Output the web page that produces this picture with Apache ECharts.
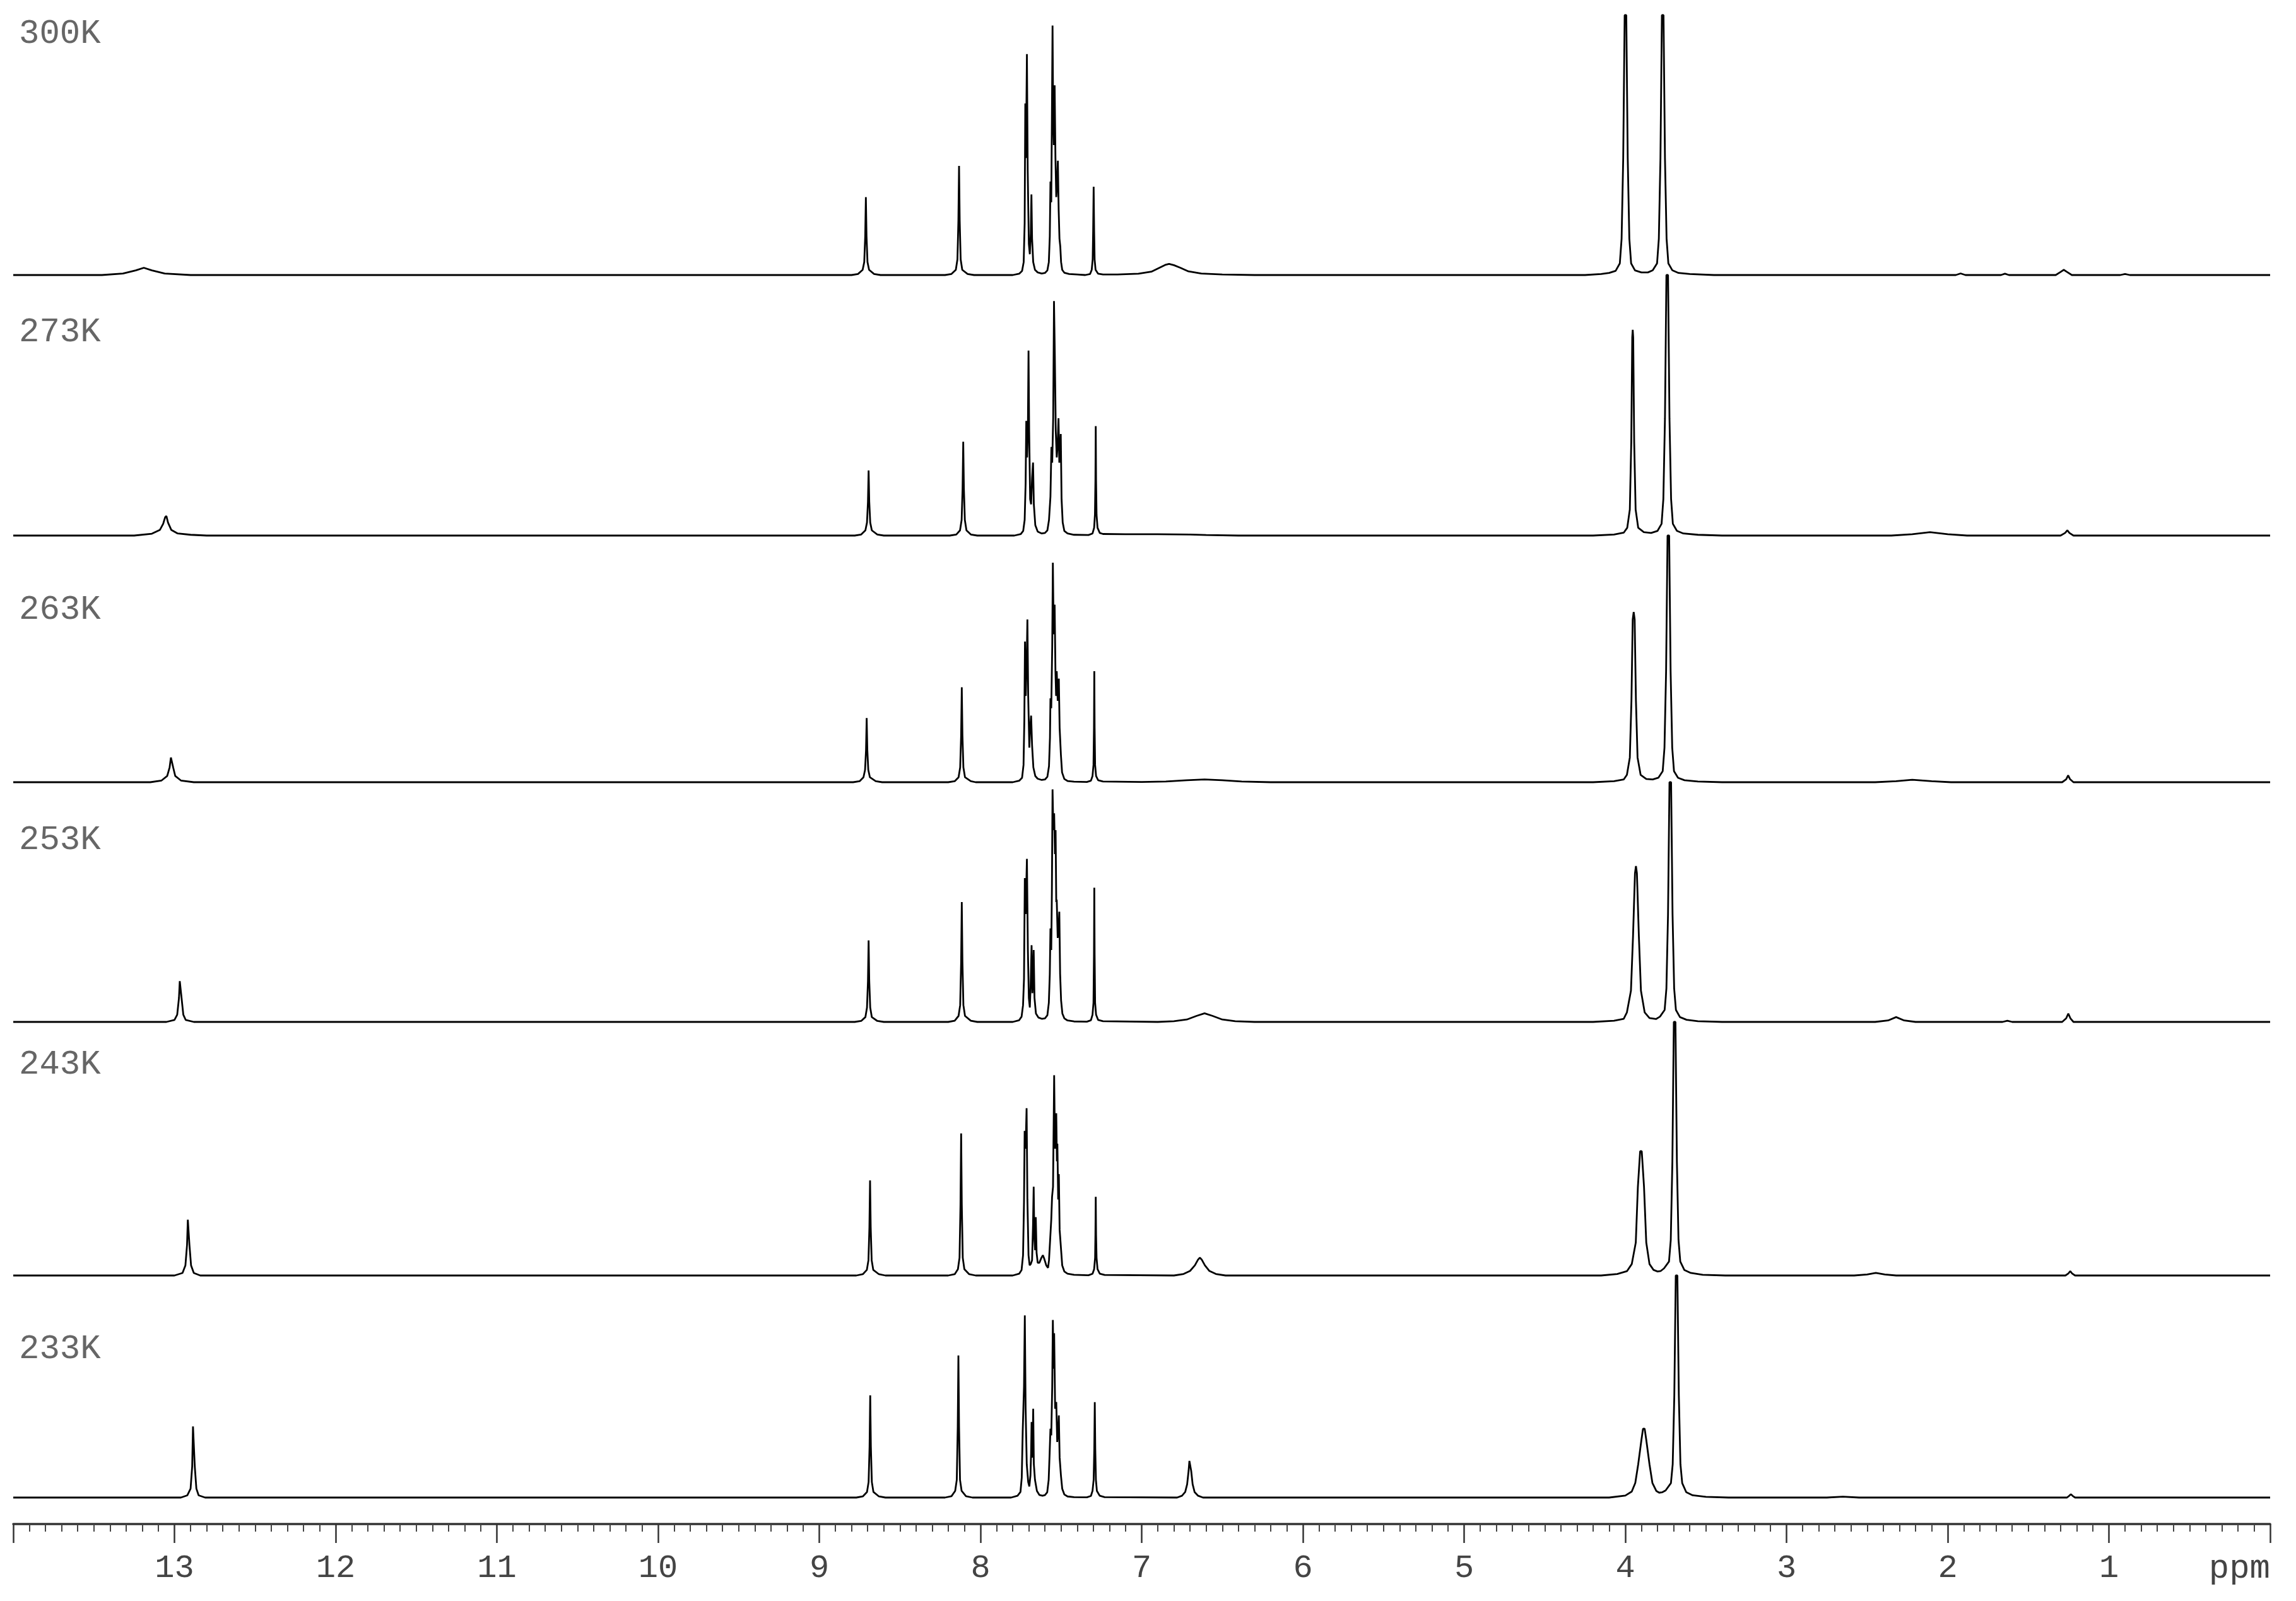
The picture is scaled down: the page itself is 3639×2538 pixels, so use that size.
<!DOCTYPE html>
<html>
<head>
<meta charset="utf-8">
<script src="https://cdn.jsdelivr.net/npm/echarts@6/dist/echarts.min.js"></script>
<style>
  html, body { margin: 0; padding: 0; background: #fff; }
  #chart { width: 3639px; height: 2538px; }
</style>
</head>
<body>
<div id="chart"></div>
<script>
// temperatures, top to bottom
const temps = ['300K', '273K', '263K', '253K', '243K', '233K'];

// chemical shift axis (ppm), drawn high -> low
const ppmMin = 0;
const ppmMax = 14;

// spectra as [ppm, relative intensity %]
const spec300 = [
  [14, 0], [13.45, 0], [13.32, 0.6], [13.24, 1.8], [13.19, 2.8], [13.14, 1.8], [13.06, 0.6], [12.9, 0],
  [8.80, 0], [8.76, 0.4], [8.731, 2], [8.721, 5], [8.715, 15], [8.711, 30], [8.707, 15], [8.701, 5], [8.691, 2], [8.66, 0.4], [8.62, 0],
  [8.22, 0], [8.18, 0.4], [8.153, 2], [8.143, 6], [8.137, 21], [8.133, 42], [8.129, 21], [8.123, 6], [8.113, 2], [8.08, 0.4], [8.04, 0],
  [7.80, 0], [7.76, 0.5], [7.742, 1.6], [7.732, 5], [7.726, 20], [7.722, 66], [7.718, 45], [7.712, 85], [7.707, 40], [7.700, 12], [7.694, 8],
  [7.688, 16], [7.684, 31], [7.680, 14], [7.673, 5], [7.662, 2], [7.645, 1], [7.62, 0.6], [7.600, 0.8], [7.585, 1.8], [7.576, 5], [7.570, 15],
  [7.566, 36], [7.561, 28], [7.557, 60], [7.553, 96], [7.549, 60], [7.545, 50], [7.540, 73], [7.535, 45], [7.530, 30], [7.525, 35], [7.520, 44],
  [7.515, 25], [7.510, 14], [7.505, 11], [7.500, 5], [7.493, 2], [7.48, 0.9], [7.45, 0.4], [7.40, 0.2],
  [7.35, 0], [7.32, 0.4], [7.31, 2], [7.304, 6], [7.301, 17], [7.298, 34], [7.295, 17], [7.292, 6], [7.286, 2], [7.27, 0.5], [7.24, 0.2],
  [7.15, 0.2], [7.02, 0.5], [6.94, 1.3], [6.89, 2.8], [6.85, 4], [6.83, 4.3], [6.80, 3.8], [6.76, 2.8], [6.71, 1.4], [6.63, 0.6], [6.5, 0.2], [6.3, 0],
  [4.25, 0], [4.15, 0.4], [4.10, 0.8], [4.06, 1.6], [4.034, 4.5], [4.023, 14], [4.013, 45], [4.004, 100], [3.994, 100], [3.985, 45], [3.975, 14],
  [3.964, 4.5], [3.940, 1.8], [3.90, 1], [3.86, 1],
  [3.83, 1.8], [3.803, 4.5], [3.792, 14], [3.782, 45], [3.773, 100], [3.763, 100], [3.754, 45], [3.744, 14], [3.733, 4.5], [3.708, 1.8], [3.67, 0.8], [3.6, 0.4], [3.45, 0],
  [1.95, 0], [1.92, 0.6], [1.89, 0], [1.67, 0], [1.645, 0.5], [1.62, 0], [1.33, 0], [1.30, 1.2], [1.28, 2], [1.26, 1.2], [1.23, 0],
  [0.93, 0], [0.90, 0.4], [0.87, 0], [0, 0]
];

const spec273 = [
  [14, 0], [13.25, 0], [13.14, 0.7], [13.09, 2.2], [13.07, 4.5], [13.058, 7], [13.050, 7.5], [13.040, 5], [13.02, 2.2], [12.98, 0.8], [12.9, 0.3], [12.8, 0],
  [8.78, 0], [8.74, 0.4], [8.714, 2], [8.704, 5], [8.698, 13], [8.694, 25], [8.690, 13], [8.684, 5], [8.674, 2], [8.64, 0.4], [8.60, 0],
  [8.19, 0], [8.15, 0.4], [8.127, 2], [8.117, 6], [8.111, 18], [8.107, 36], [8.103, 18], [8.097, 6], [8.087, 2], [8.06, 0.4], [8.02, 0],
  [7.79, 0], [7.75, 0.6], [7.735, 1.8], [7.726, 6], [7.720, 20], [7.716, 44], [7.711, 30], [7.706, 40], [7.702, 71], [7.698, 40], [7.692, 14],
  [7.686, 12], [7.680, 22], [7.674, 28], [7.669, 12], [7.660, 4], [7.645, 1.5], [7.62, 0.8], [7.60, 1], [7.585, 2], [7.575, 6], [7.566, 15],
  [7.560, 34], [7.555, 28], [7.549, 45], [7.544, 90], [7.539, 70], [7.533, 40], [7.527, 30], [7.522, 34], [7.516, 45], [7.511, 28], [7.506, 32],
  [7.502, 39], [7.497, 14], [7.490, 5], [7.48, 1.8], [7.46, 0.8], [7.42, 0.3],
  [7.33, 0.2], [7.305, 0.8], [7.295, 3], [7.290, 8], [7.287, 21], [7.285, 42], [7.283, 21], [7.280, 8], [7.274, 3], [7.26, 1], [7.24, 0.6],
  [7.1, 0.5], [6.9, 0.5], [6.7, 0.4], [6.6, 0.2], [6.4, 0],
  [4.2, 0], [4.07, 0.4], [4.01, 1.1], [3.988, 3], [3.972, 10], [3.963, 36], [3.957, 76], [3.954, 79], [3.951, 76], [3.945, 36], [3.936, 10],
  [3.920, 3], [3.885, 1.3], [3.84, 1],
  [3.80, 1.8], [3.775, 4.5], [3.764, 14], [3.754, 45], [3.745, 100], [3.735, 100], [3.726, 45], [3.716, 14], [3.705, 4.5], [3.68, 1.8], [3.64, 0.8], [3.55, 0.3], [3.40, 0],
  [2.35, 0], [2.22, 0.5], [2.11, 1.3], [2.0, 0.5], [1.88, 0], [1.30, 0], [1.272, 1], [1.258, 2], [1.245, 1], [1.22, 0], [0, 0]
];

const spec263 = [
  [14, 0], [13.15, 0], [13.08, 0.7], [13.045, 2.5], [13.030, 6], [13.022, 10], [13.016, 10], [13.008, 6], [12.995, 2.5], [12.96, 0.7], [12.88, 0],
  [8.79, 0], [8.75, 0.4], [8.726, 2], [8.716, 5], [8.710, 13], [8.706, 26], [8.702, 13], [8.696, 5], [8.686, 2], [8.65, 0.4], [8.61, 0],
  [8.20, 0], [8.16, 0.4], [8.136, 2], [8.126, 6], [8.120, 19], [8.116, 38.5], [8.112, 19], [8.106, 6], [8.096, 2], [8.06, 0.4], [8.03, 0],
  [7.80, 0], [7.76, 0.6], [7.742, 1.8], [7.733, 7], [7.728, 25], [7.724, 57], [7.719, 35], [7.713, 50], [7.709, 66], [7.704, 35], [7.697, 14],
  [7.692, 22], [7.686, 27], [7.680, 15], [7.672, 6], [7.66, 2.5], [7.645, 1.4], [7.62, 0.9], [7.60, 1.1], [7.585, 2.2], [7.575, 6.5], [7.569, 18],
  [7.566, 34], [7.561, 30], [7.555, 55], [7.551, 89], [7.546, 60], [7.540, 72], [7.535, 45], [7.531, 35], [7.527, 45], [7.521, 33], [7.514, 42],
  [7.509, 22], [7.501, 11], [7.494, 4], [7.48, 1.3], [7.46, 0.5], [7.42, 0.2],
  [7.34, 0.1], [7.315, 0.6], [7.305, 2.5], [7.299, 7], [7.296, 22], [7.294, 45], [7.292, 22], [7.289, 7], [7.283, 2.5], [7.27, 0.8], [7.24, 0.3],
  [7.0, 0.1], [6.85, 0.3], [6.72, 0.8], [6.61, 1.1], [6.50, 0.8], [6.38, 0.3], [6.2, 0],
  [4.2, 0], [4.07, 0.4], [4.01, 1.1], [3.990, 3], [3.972, 10], [3.962, 33], [3.954, 66], [3.948, 69], [3.942, 66], [3.934, 33], [3.924, 10],
  [3.905, 3], [3.87, 1.3], [3.83, 1.1],
  [3.795, 1.8], [3.768, 4.5], [3.757, 14], [3.747, 45], [3.738, 100], [3.728, 100], [3.719, 45], [3.709, 14], [3.698, 4.5], [3.673, 1.8], [3.633, 0.8], [3.55, 0.3], [3.40, 0],
  [2.45, 0], [2.32, 0.4], [2.22, 1], [2.10, 0.4], [1.98, 0], [1.29, 0], [1.265, 1.2], [1.253, 2.8], [1.241, 1.2], [1.22, 0], [0, 0]
];

const spec253 = [
  [14, 0], [13.05, 0], [13.0, 0.8], [12.983, 3], [12.972, 10], [12.967, 17], [12.961, 17], [12.956, 10], [12.945, 3], [12.93, 0.8], [12.88, 0],
  [8.78, 0], [8.74, 0.4], [8.714, 2], [8.704, 6], [8.698, 17], [8.694, 34], [8.690, 17], [8.684, 6], [8.674, 2], [8.64, 0.4], [8.60, 0],
  [8.20, 0], [8.16, 0.5], [8.136, 2.5], [8.126, 7], [8.120, 25], [8.116, 50], [8.112, 25], [8.106, 7], [8.096, 2.5], [8.06, 0.5], [8.02, 0],
  [7.80, 0], [7.76, 0.7], [7.745, 2.2], [7.736, 7], [7.730, 18], [7.725, 60], [7.720, 45], [7.712, 68], [7.706, 30], [7.700, 10], [7.694, 6],
  [7.689, 15], [7.683, 32], [7.678, 12], [7.674, 18], [7.670, 30], [7.665, 10], [7.656, 3.5], [7.64, 1.8], [7.62, 1.3], [7.60, 1.5], [7.585, 2.8],
  [7.576, 8], [7.570, 20],
  [7.566, 39], [7.561, 30], [7.557, 55], [7.553, 97], [7.548, 80], [7.543, 87], [7.538, 70], [7.534, 80], [7.530, 50], [7.527, 51], [7.521, 35],
  [7.515, 40], [7.511, 46], [7.506, 20], [7.500, 9], [7.492, 3.5], [7.48, 1.5], [7.46, 0.6], [7.42, 0.2],
  [7.34, 0.1], [7.315, 0.7], [7.305, 3], [7.299, 8], [7.296, 28], [7.294, 56], [7.292, 28], [7.289, 8], [7.283, 3], [7.27, 0.8], [7.24, 0.3],
  [6.9, 0], [6.80, 0.3], [6.72, 1], [6.66, 2.5], [6.61, 3.6], [6.56, 2.5], [6.50, 1], [6.42, 0.3], [6.3, 0],
  [4.2, 0], [4.07, 0.5], [4.01, 1.3], [3.990, 4], [3.965, 13], [3.952, 36], [3.940, 62], [3.934, 65], [3.928, 62], [3.916, 36], [3.903, 13],
  [3.880, 4], [3.85, 1.6], [3.81, 1.2],
  [3.785, 2.2], [3.756, 5], [3.745, 14], [3.735, 45], [3.726, 100], [3.716, 100], [3.707, 45], [3.697, 14], [3.686, 5], [3.661, 2], [3.62, 0.9], [3.55, 0.3], [3.40, 0],
  [2.45, 0], [2.37, 0.6], [2.32, 2], [2.27, 0.6], [2.20, 0], [1.66, 0], [1.63, 0.5], [1.60, 0],
  [1.29, 0], [1.265, 1.5], [1.252, 3.5], [1.239, 1.5], [1.22, 0], [0, 0]
];

const spec243 = [
  [14, 0], [13.0, 0], [12.95, 1], [12.932, 4], [12.922, 12], [12.917, 22], [12.912, 22], [12.907, 12], [12.897, 4], [12.88, 1], [12.84, 0],
  [8.77, 0], [8.73, 0.5], [8.705, 2.2], [8.695, 6], [8.689, 19], [8.685, 37.5], [8.681, 19], [8.675, 6], [8.665, 2.2], [8.63, 0.5], [8.59, 0],
  [8.20, 0], [8.16, 0.5], [8.140, 2.5], [8.130, 7], [8.124, 28], [8.120, 56], [8.116, 28], [8.110, 7], [8.100, 2.5], [8.07, 0.5], [8.03, 0],
  [7.80, 0], [7.76, 0.7], [7.745, 2.2], [7.736, 8], [7.730, 29], [7.726, 57], [7.720, 50], [7.714, 66], [7.709, 30], [7.702, 8], [7.695, 4],
  [7.688, 4.5], [7.680, 6], [7.674, 20], [7.670, 35], [7.666, 15], [7.661, 10], [7.657, 23], [7.652, 9], [7.645, 5], [7.635, 5], [7.622, 7],
  [7.613, 8], [7.604, 6.5], [7.592, 4], [7.581, 3], [7.575, 6], [7.568, 14], [7.561, 22],
  [7.556, 31], [7.550, 35], [7.543, 79], [7.538, 50], [7.530, 64], [7.526, 45], [7.523, 52], [7.518, 30], [7.514, 40], [7.509, 18], [7.501, 11],
  [7.493, 4], [7.48, 1.6], [7.46, 0.7], [7.42, 0.3],
  [7.33, 0.1], [7.305, 0.7], [7.295, 2.5], [7.289, 7], [7.287, 16], [7.285, 31], [7.283, 16], [7.280, 7], [7.274, 2.5], [7.26, 0.7], [7.23, 0.2],
  [6.80, 0], [6.74, 0.6], [6.70, 1.8], [6.670, 4], [6.650, 6.3], [6.639, 7], [6.628, 6.3], [6.608, 4], [6.58, 1.8], [6.54, 0.6], [6.48, 0],
  [4.15, 0], [4.05, 0.6], [3.99, 1.7], [3.960, 4.5], [3.935, 13], [3.922, 35], [3.908, 49], [3.898, 49], [3.884, 35], [3.870, 13], [3.850, 4.5],
  [3.825, 2.2], [3.80, 1.6], [3.78, 1.8],
  [3.76, 2.8], [3.729, 5.5], [3.718, 14], [3.708, 45], [3.699, 100], [3.689, 100], [3.680, 45], [3.670, 14], [3.659, 5.5], [3.634, 2.2], [3.594, 1], [3.52, 0.3], [3.38, 0],
  [2.58, 0], [2.50, 0.4], [2.446, 1], [2.39, 0.4], [2.32, 0], [1.27, 0], [1.252, 0.8], [1.240, 1.7], [1.228, 0.8], [1.21, 0], [0, 0]
];

const spec233 = [
  [14, 0], [12.96, 0], [12.92, 1], [12.900, 4], [12.890, 14], [12.885, 32], [12.879, 32], [12.874, 14], [12.864, 4], [12.85, 1], [12.81, 0],
  [8.77, 0], [8.73, 0.5], [8.704, 2.5], [8.694, 7], [8.688, 23], [8.684, 46], [8.680, 23], [8.674, 7], [8.664, 2.5], [8.63, 0.5], [8.59, 0],
  [8.22, 0], [8.18, 0.6], [8.157, 3], [8.147, 8], [8.141, 32], [8.137, 64], [8.133, 32], [8.127, 8], [8.117, 3], [8.09, 0.6], [8.05, 0],
  [7.81, 0], [7.77, 0.8], [7.752, 2.5], [7.744, 9], [7.738, 30], [7.730, 50], [7.725, 82], [7.720, 40], [7.713, 15], [7.704, 7], [7.697, 5],
  [7.690, 10], [7.686, 20], [7.683, 34], [7.679, 18], [7.676, 25], [7.673, 40], [7.669, 15], [7.662, 8], [7.657, 8], [7.650, 3], [7.635, 1.2],
  [7.615, 0.8], [7.600, 1.1], [7.586, 2.4], [7.577, 8], [7.571, 20],
  [7.566, 31], [7.561, 28], [7.555, 50], [7.551, 80], [7.547, 58], [7.543, 74], [7.537, 40], [7.530, 43], [7.524, 25], [7.518, 30], [7.514, 37],
  [7.509, 18], [7.501, 10], [7.493, 4], [7.48, 1.4], [7.46, 0.5], [7.42, 0.2],
  [7.34, 0.1], [7.315, 0.7], [7.305, 3], [7.298, 8], [7.294, 22], [7.291, 43], [7.288, 22], [7.284, 8], [7.278, 3], [7.26, 0.8], [7.23, 0.2],
  [6.78, 0], [6.75, 0.8], [6.73, 2.5], [6.718, 6], [6.709, 12], [6.704, 16.5], [6.698, 16.5], [6.693, 12], [6.684, 6], [6.672, 2.5], [6.65, 0.8], [6.62, 0],
  [4.10, 0], [4.0, 0.9], [3.960, 2.7], [3.938, 6.6], [3.920, 15], [3.900, 26], [3.890, 31], [3.880, 31], [3.870, 26], [3.850, 15], [3.832, 6.6],
  [3.808, 3], [3.79, 2.2], [3.77, 2.4],
  [3.75, 3.2], [3.717, 6.5], [3.706, 15], [3.696, 46], [3.687, 100], [3.677, 100], [3.668, 46], [3.658, 15], [3.647, 6.5], [3.622, 2.4], [3.582, 1], [3.50, 0.3], [3.36, 0],
  [2.75, 0], [2.65, 0.4], [2.55, 0], [1.26, 0], [1.248, 0.7], [1.236, 1.5], [1.224, 0.7], [1.21, 0], [0, 0]
];

const spectra = [spec300, spec273, spec263, spec253, spec243, spec233];

// stacked boxes (px): each spectrum's tallest line fills its box
const boxTop = [24, 436, 849, 1240, 1620, 2022];
const boxBottom = [436, 849, 1240, 1620, 2022, 2374];
const labelTop = [27, 500, 940, 1305, 1661, 2112];

const myChart = echarts.init(document.getElementById('chart'), null, { renderer: 'canvas' });

let grids = [], xAxes = [], yAxes = [], series = [];
spectra.forEach((data, i) => {
  const last = i === spectra.length - 1;
  grids.push({
    left: 21,
    right: 41,
    top: boxTop[i],
    height: boxBottom[i] - boxTop[i],
    containLabel: false,
    outerBoundsMode: 'none'
  });
  xAxes.push({
    gridIndex: i,
    type: 'value',
    position: 'bottom',
    min: ppmMin,
    max: ppmMax,
    interval: 1,
    inverse: true,
    show: last,
    offset: last ? 42 : 0,
    name: 'ppm',
    nameLocation: 'start',
    nameGap: 0,
    nameTextStyle: {
      fontFamily: 'Liberation Mono',
      fontSize: 54,
      color: '#444',
      align: 'right',
      verticalAlign: 'top',
      padding: [44, 0, 0, 0]
    },
    axisLine: { show: true, onZero: false, lineStyle: { color: '#333', width: 3.5 } },
    axisTick: { show: true, length: 30, lineStyle: { color: '#333', width: 2.5 } },
    minorTick: { show: true, splitNumber: 10, length: 12, lineStyle: { color: '#444', width: 2 } },
    splitLine: { show: false },
    minorSplitLine: { show: false },
    axisLabel: {
      margin: 44,
      fontFamily: 'Liberation Mono',
      fontSize: 52,
      color: '#444',
      formatter: (v) => (v === ppmMin || v === ppmMax) ? '' : String(v)
    }
  });
  yAxes.push({ gridIndex: i, type: 'value', min: 0, max: 100, show: false });
  series.push({
    name: temps[i],
    type: 'line',
    xAxisIndex: i,
    yAxisIndex: i,
    data: data,
    symbol: 'none',
    showSymbol: false,
    clip: false,
    silent: true,
    lineStyle: { color: '#000', width: 2.8 }
  });
});

let option = {
  backgroundColor: '#fff',
  animation: false,
  grid: grids,
  xAxis: xAxes,
  yAxis: yAxes,
  series: series,
  graphic: temps.map((t, i) => ({
    type: 'text',
    left: 30,
    top: labelTop[i],
    silent: true,
    style: {
      text: t,
      fontFamily: 'Liberation Mono',
      fontSize: 54,
      fill: '#666'
    }
  }))
};
myChart.setOption(option);
</script>
</body>
</html>
